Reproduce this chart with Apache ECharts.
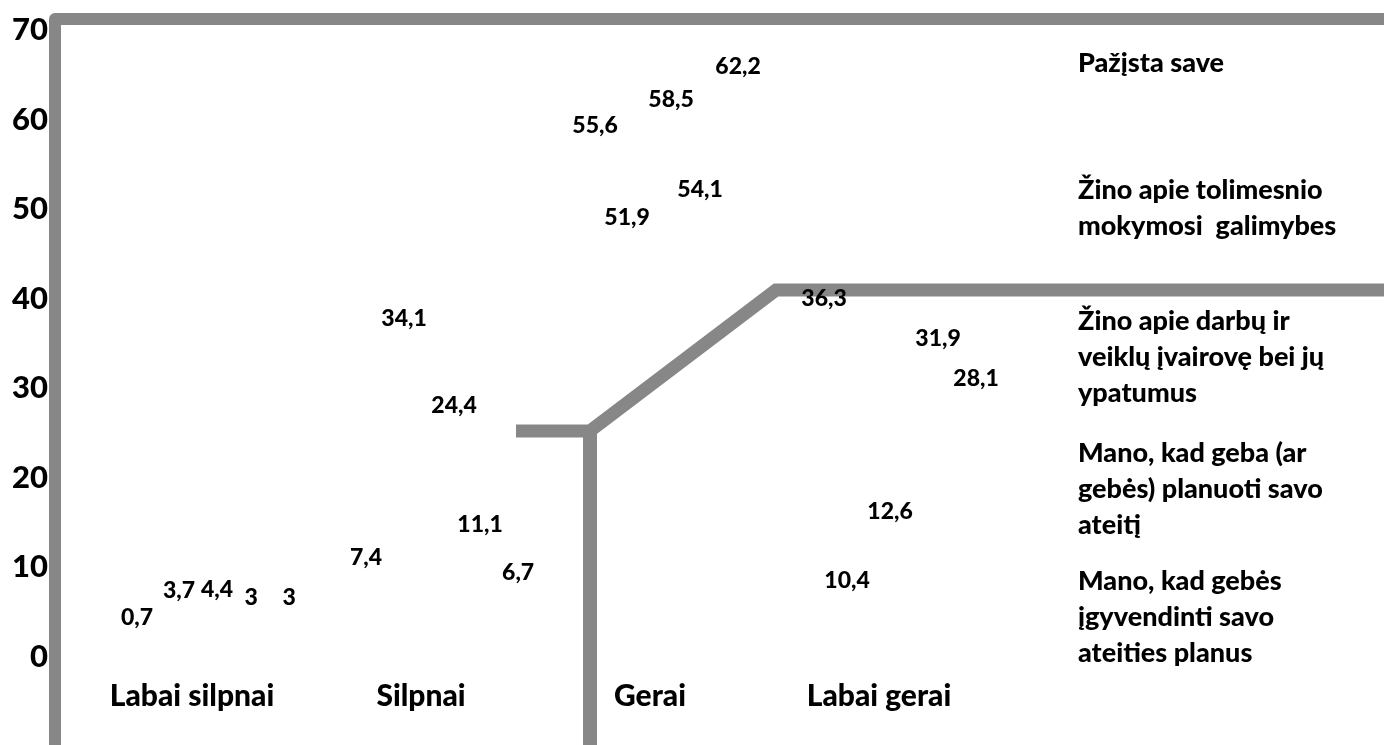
<!DOCTYPE html>
<html>
<head>
<meta charset="utf-8">
<script src="https://cdn.jsdelivr.net/npm/echarts@6/dist/echarts.min.js"></script>
<style>
html,body{margin:0;padding:0;background:#fff;}
#chart{width:1384px;height:745px;}
</style>
</head>
<body>
<div id="chart"></div>
<script>
// ---- data ----
const categories = ['Labai silpnai', 'Silpnai', 'Gerai', 'Labai gerai'];
const seriesNames = [
  'Pažįsta save',
  'Žino apie tolimesnio\nmokymosi  galimybes',
  'Žino apie darbų ir\nveiklų įvairovę bei jų\nypatumus',
  'Mano, kad geba (ar\ngebės) planuoti savo\nateitį',
  'Mano, kad gebės\nįgyvendinti savo\nateities planus'
];
const valuesS1 = [0.7, 7.4, 55.6, 36.3];
const valuesS2 = [3.7, 34.1, 51.9, 10.4];
const valuesS3 = [4.4, 24.4, 58.5, 12.6];
const valuesS4 = [3, 11.1, 54.1, 31.9];
const valuesS5 = [3, 6.7, 62.2, 28.1];
const yTicks = [0, 10, 20, 30, 40, 50, 60, 70];

// ---- layout / style (not data) ----
const allValues = [valuesS1, valuesS2, valuesS3, valuesS4, valuesS5];
const clusterOffset = s => -0.24 + 0.166 * s;   // position inside a category cluster
const labelNudge = {             // manual label shifts seen in the picture [dx, dy] px
  '1,2': [-6, 58], '1,3': [-15, 50], '3,2': [-9, 50], '4,1': [0, 9],
  '2,0': [0, 5], '4,3': [0, 6], '2,1': [12, 0], '4,2': [-9, 0], '2,3': [-10, 0],
  '1,0': [4, 0], '2,0': [4, 5]
};
const FONT = 'Lato, "Open Sans", sans-serif';
const WEIGHT = 900;
const GRAY = '#878787';

const chart = echarts.init(document.getElementById('chart'), null, {renderer: 'canvas'});

const series = allValues.map((vals, s) => ({
  type: 'scatter',
  name: seriesNames[s],
  xAxisIndex: 1,
  yAxisIndex: 0,
  symbolSize: 0,
  z: 5,
  silent: true,
  itemStyle: {opacity: 1},
  data: vals.map((v, c) => {
    const n = labelNudge[s + ',' + c] || [0, 0];
    return {
      value: [c + clusterOffset(s), v],
      label: {offset: [n[0], -33 + n[1]]}
    };
  }),
  label: {
    show: true,
    position: 'inside',
    fontFamily: FONT,
    fontWeight: WEIGHT,
    fontSize: 23,
    color: '#000',
    opacity: 1,
    formatter: p => String(p.value[1]).replace('.', ',')
  }
}));

const legendTops = [45, 172, 303, 435, 563];
const graphics = [
  {type: 'polyline', z: 1, shape: {points: [[55, 760], [55, 19], [1400, 19]]},
   style: {stroke: GRAY, lineWidth: 12, fill: null, lineJoin: 'round'}},
  {type: 'polyline', z: 1, shape: {points: [[516, 431], [590, 431], [776, 290], [1400, 290]]},
   style: {stroke: GRAY, lineWidth: 13, fill: null, lineJoin: 'miter'}},
  {type: 'line', z: 1, shape: {x1: 590, y1: 425, x2: 590, y2: 760},
   style: {stroke: GRAY, lineWidth: 14}}
].concat(seriesNames.map((nm, i) => ({
  type: 'text', z: 5, left: 1078, top: legendTops[i],
  style: {text: nm, font: WEIGHT + ' 27px ' + FONT, fill: '#000', lineHeight: 36}
})));

chart.setOption({
  animation: false,
  backgroundColor: '#fff',
  grid: {left: 77.5, right: 1384 - 993.5, top: 30, bottom: 88, containLabel: false},
  xAxis: [
    {type: 'category', data: categories, boundaryGap: true,
     axisLine: {show: false}, axisTick: {show: false}, splitLine: {show: false},
     axisLabel: {margin: 24, fontFamily: FONT, fontWeight: WEIGHT, fontSize: 30, color: '#000'}},
    {type: 'value', min: -0.5, max: 3.5, show: false}
  ],
  yAxis: [{
    type: 'value', min: yTicks[0], max: yTicks[yTicks.length - 1], interval: 10,
    axisLine: {show: false}, axisTick: {show: false}, splitLine: {show: false},
    axisLabel: {margin: 29.5, fontFamily: FONT, fontWeight: WEIGHT, fontSize: 31, color: '#000'}
  }],
  graphic: graphics,
  series: series
});
</script>
</body>
</html>
